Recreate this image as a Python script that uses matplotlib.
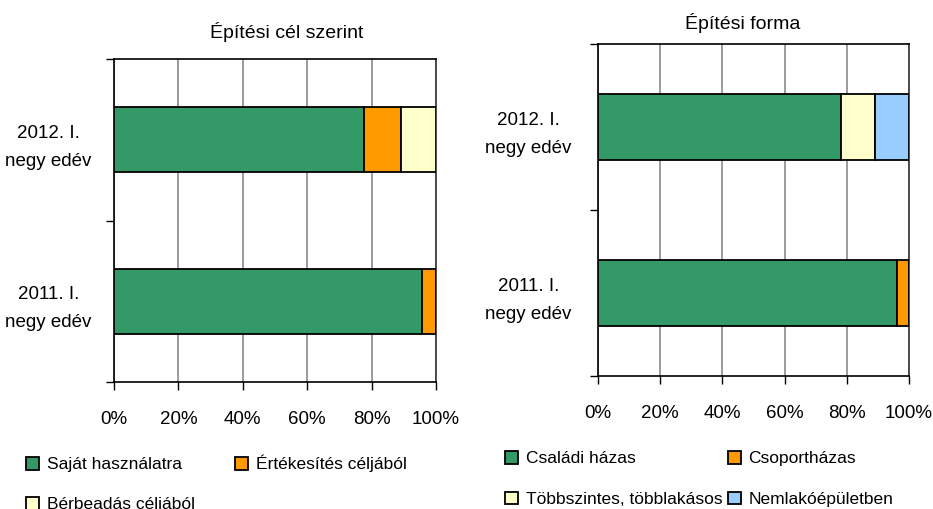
import matplotlib
matplotlib.use("Agg")
import matplotlib.pyplot as plt
import numpy as np
from matplotlib.ticker import FuncFormatter, FixedLocator

plt.rcParams["font.family"] = ["Liberation Sans", "DejaVu Sans"]

# categories (bottom to top)
periods = ["2011. I.\nnegy edév", "2012. I.\nnegy edév"]

# Építési cél szerint (%)
sajat = [95.8, 77.7]
ertekesites = [4.2, 11.3]
berbeadas = [0.0, 11.0]
cel_labels = ["Saját használatra", "Értékesítés céljából", "Bérbeadás céljából"]

# Építési forma (%)
csaladi = [96.1, 78.0]
csoport = [3.9, 0.0]
tobbszintes = [0.0, 11.1]
nemlako = [0.0, 10.9]
forma_labels = ["Családi házas", "Csoportházas",
                "Többszintes, többlakásos", "Nemlakóépületben"]

GREEN = "#339966"
ORANGE = "#FF9900"
YELLOW = "#FFFFCC"
BLUE = "#99CCFF"

W, H = 933, 509
FS = 13.5


def stacked(ax, series, colors, labels):
    y = np.arange(len(periods))
    left = np.zeros(len(periods))
    handles = []
    for vals, c, lab in zip(series, colors, labels):
        vals = np.array(vals)
        h = ax.barh(y, vals, left=left, height=0.4, color=c,
                    edgecolor="black", linewidth=1.3, label=lab, zorder=3)
        handles.append(h)
        left = left + vals
    return handles


def style(ax, ypad):
    ax.set_xlim(0, 100)
    ax.set_ylim(-0.5, 1.5)
    ax.set_xticks(np.arange(0, 101, 20))
    ax.xaxis.set_major_formatter(FuncFormatter(lambda v, p: "{:.0f}%".format(v)))
    ax.grid(axis="x", color="#808080", linewidth=1.1, zorder=0)
    ax.set_yticks(np.arange(len(periods)))
    ax.set_yticklabels(periods, fontsize=FS, linespacing=1.85,
                       multialignment="center")
    ax.yaxis.set_minor_locator(FixedLocator([-0.5, 0.5, 1.5]))
    ax.tick_params(axis="y", which="major", length=0, pad=ypad)
    ax.tick_params(axis="y", which="minor", length=6, width=1, direction="out")
    ax.tick_params(axis="x", length=6, width=1, direction="out",
                   labelsize=FS, pad=15)
    for s in ("left", "bottom", "top"):
        ax.spines[s].set_color("black")
        ax.spines[s].set_linewidth(1.2)
    ax.spines["right"].set_color("#404040")
    ax.spines["right"].set_linewidth(1.3)


def rowwise(items):
    # legend fills by column; reorder so entries read across rows
    return items[0::2] + items[1::2]


fig = plt.figure(figsize=(W / 100, H / 100), dpi=100)

ax1 = fig.add_axes([114 / W, 1 - 382 / H, 322 / W, 323 / H])
h1 = stacked(ax1, [sajat, ertekesites, berbeadas],
             [GREEN, ORANGE, YELLOW], cel_labels)
style(ax1, 16)
fig.text(287 / W, 1 - 32 / H, "Építési cél szerint", ha="center",
         va="center", fontsize=14)

ax2 = fig.add_axes([598 / W, 1 - 376 / H, 311 / W, 332 / H])
h2 = stacked(ax2, [csaladi, csoport, tobbszintes, nemlako],
             [GREEN, ORANGE, YELLOW, BLUE], forma_labels)
style(ax2, 19)
fig.text(743 / W, 1 - 23 / H, "Építési forma", ha="center",
         va="center", fontsize=14)

leg_kw = dict(ncol=2, frameon=False, fontsize=12.5, handlelength=0.75,
              handleheight=0.75, handletextpad=0.45, borderpad=0,
              borderaxespad=0, loc="upper left")
fig.legend(rowwise(h1), rowwise(cel_labels),
           bbox_to_anchor=(26 / W, 1 - 455 / H),
           columnspacing=2.3, labelspacing=1.4, **leg_kw)
fig.legend(rowwise(h2), rowwise(forma_labels),
           bbox_to_anchor=(505 / W, 1 - 451 / H),
           columnspacing=0.3, labelspacing=1.45, **leg_kw)

fig.savefig("out.png", dpi=100)
